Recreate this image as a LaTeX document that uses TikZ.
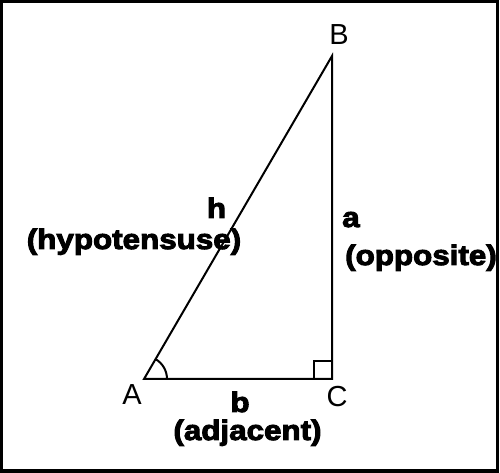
\documentclass[tikz,border=0pt]{standalone}
\usepackage{fontspec}
\setmainfont{Liberation Sans}
\newfontfamily\heavyfont[FakeBold=3.5,FakeStretch=1.12]{Liberation Sans Bold}
\usetikzlibrary{positioning,calc}
\tikzset{
  vtx/.style={inner sep=0pt,anchor=base,font=\fontsize{29}{29}\selectfont},
  lbl/.style={inner sep=0pt,anchor=base,font=\fontsize{28}{28}\heavyfont},
  side/.style={line width=2pt}
}

\begin{document}
\begin{tikzpicture}[x=1pt,y=1pt]
  \useasboundingbox (0,0) rectangle (500,473);
  \draw[line width=3.5pt] (1.5,1.75) rectangle (497.5,471.5);

  \coordinate (A) at (144,94);
  \coordinate (B) at (332,417);
  \coordinate (C) at (332,94);

  % triangle
  \draw[side] (A) -- (B) -- (C) -- cycle;
  \draw[side] ($(C)+(-18,0)$) |- ($(C)+(0,18)$);
  \draw[side] ($(A)+(23,0)$) arc[start angle=0,end angle=59.8,radius=23];

  % vertices
  \node[vtx] (lA) at (132,68) {A};
  \node[vtx] (lB) at (339,428) {B};
  \node[vtx] (lC) at (337,66) {C};

  % sides
  \node[lbl] (hyp) at (216.5,255) {h};
  \node[lbl] (hyptxt) at (134,224) {(hypotensuse)};
  \node[lbl,anchor=base west] (opp) at (342,246) {a};
  \node[lbl,anchor=base west] (opptxt) at (345,208) {(opposite)};
  \node[lbl] (adj) at (240,61) {b};
  \node[lbl] (adjtxt) at (247.5,33) {(adjacent)};
\end{tikzpicture}
\end{document}
